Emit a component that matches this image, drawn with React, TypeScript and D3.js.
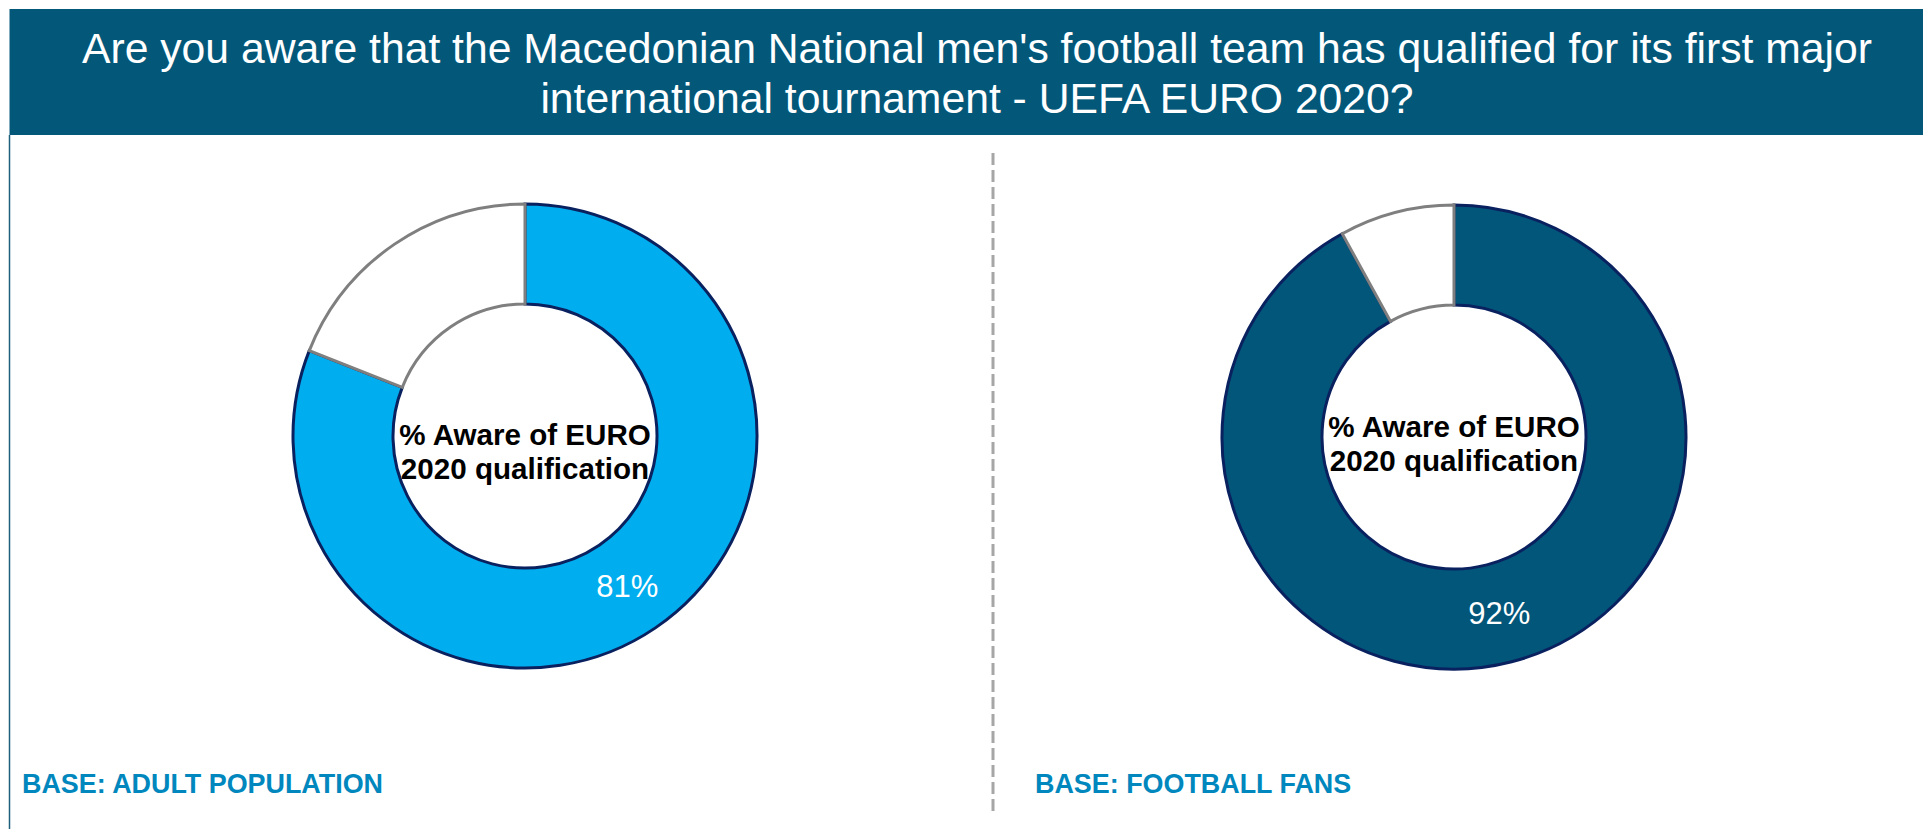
import React from "react";
import * as d3 from "d3";

const titleLines = [
  "Are you aware that the Macedonian National men's football team has qualified for its first major",
  "international tournament - UEFA EURO 2020?",
];
const panelBases = ["BASE: ADULT POPULATION", "BASE: FOOTBALL FANS"];
const awarePct = [81, 92];
const sliceNames = ["Aware", "Not aware"];
const centreLines = ["% Aware of EURO", "2020 qualification"];

const W = 1923;
const H = 829;
const headerColor = "#03587a";
const fills = ["#00aeef", "#02567a"];
const navy = "#0a2160";
const grey = "#7f7f7f";
const baseColor = "#0087bd";
const font = "'Liberation Sans', Arial, sans-serif";

// layout for each panel: donut centre, centre text offset, base label x
const panelLayout = [
  { cx: 525, cy: 436, textDy: 9, baseX: 22 },
  { cx: 1454, cy: 437, textDy: 0, baseX: 1035 },
];

const outerR = 232;
const innerR = 132;

interface Slice {
  name: string;
  value: number;
}

function Donut({ index }: { index: number }) {
  const { cx, cy, textDy } = panelLayout[index];
  const data: Slice[] = [
    { name: sliceNames[0], value: awarePct[index] },
    { name: sliceNames[1], value: 100 - awarePct[index] },
  ];
  const pie = d3.pie<Slice>().sort(null).value((d) => d.value);
  const arcs = pie(data);
  const arc = d3.arc<d3.PieArcDatum<Slice>>().innerRadius(innerR).outerRadius(outerR);
  const [lx, ly] = arc.centroid(arcs[0]);

  return (
    <g transform={`translate(${cx},${cy})`}>
      {arcs.map((a, i) => (
        <path
          key={a.data.name}
          d={arc(a) || ""}
          fill={i === 0 ? fills[index] : "#ffffff"}
          stroke={i === 0 ? navy : grey}
          strokeWidth={3}
        />
      ))}
      <text
        x={lx}
        y={ly}
        dy="0.35em"
        textAnchor="middle"
        fill="#ffffff"
        fontSize={31}
        fontFamily={font}
      >
        {`${awarePct[index]}%`}
      </text>
      {centreLines.map((t, i) => (
        <text
          key={t}
          x={0}
          y={textDy + i * 34}
          textAnchor="middle"
          fill="#000000"
          fontSize={29.6}
          fontWeight="bold"
          fontFamily={font}
        >
          {t}
        </text>
      ))}
    </g>
  );
}

export default function App() {
  return (
    <div style={{ position: "absolute", left: 0, top: 0 }}>
      <svg width={W} height={H} style={{ display: "block" }}>
        <rect x={0} y={0} width={W} height={H} fill="#ffffff" />
        <rect x={9.5} y={9} width={W - 9.5} height={126} fill={headerColor} />
        <line x1={9.5} y1={135} x2={9.5} y2={H} stroke="#1d5f7c" strokeWidth={1.5} />
        {titleLines.map((t, i) => (
          <text
            key={i}
            x={977}
            y={63 + i * 50}
            textAnchor="middle"
            fill="#ffffff"
            fontSize={42.7}
            fontFamily={font}
          >
            {t}
          </text>
        ))}
        <line
          x1={993}
          y1={153}
          x2={993}
          y2={816}
          stroke="#a6a6a6"
          strokeWidth={3}
          strokeDasharray="12,5"
        />
        {panelBases.map((b, i) => (
          <g key={b}>
            <Donut index={i} />
            <text
              x={panelLayout[i].baseX}
              y={793}
              fill={baseColor}
              fontSize={26.9}
              fontWeight="bold"
              fontFamily={font}
            >
              {b}
            </text>
          </g>
        ))}
      </svg>
    </div>
  );
}
